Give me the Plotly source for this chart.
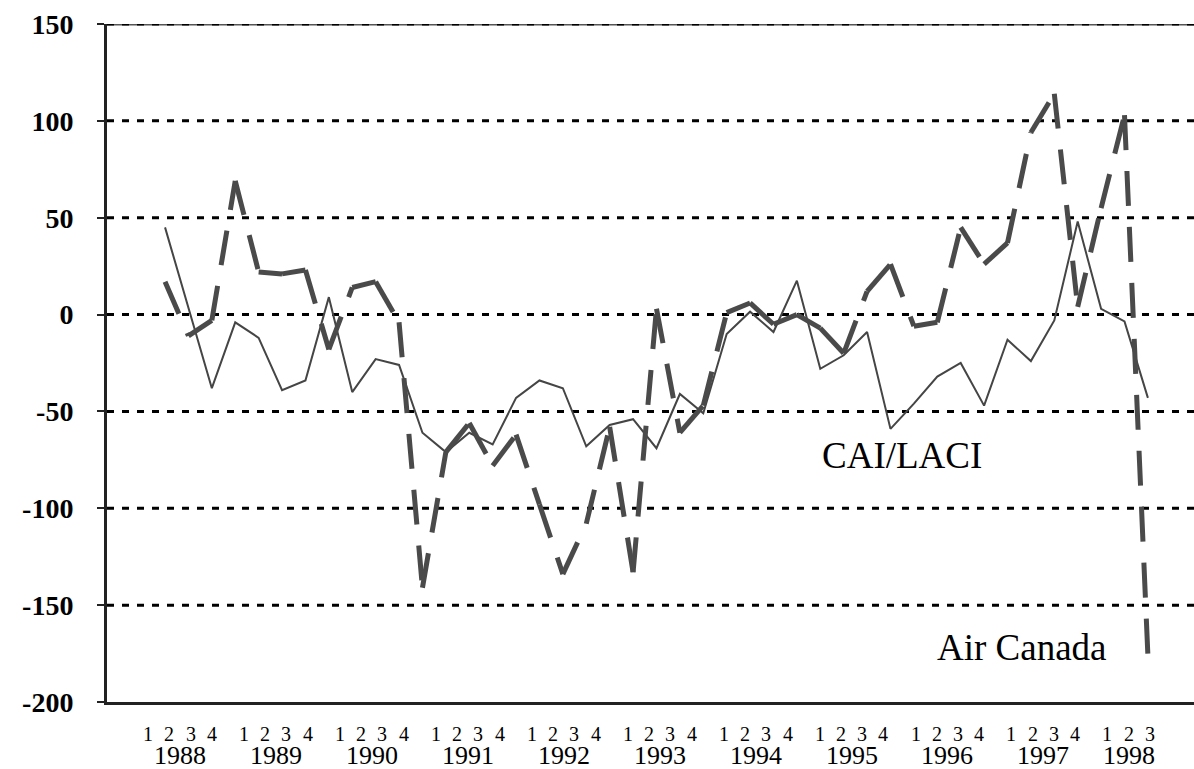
import plotly.graph_objects as go

# ---------------- data ----------------
years = ["1988", "1989", "1990", "1991", "1992", "1993", "1994", "1995", "1996", "1997", "1998"]
quarters_per_year = [4, 4, 4, 4, 4, 4, 4, 4, 4, 4, 3]

cai_laci = [45, 4, -38, -4, -12, -39, -34, 9, -40, -23,
            -26, -61, -71, -61, -67, -43, -34, -38, -68, -57,
            -54, -69, -41, -51, -10, 1.5, -9, 17.5, -28, -21,
            -9, -59, -46, -32, -25, -47, -13, -24, -3, 48,
            3, -3.5, -43]

air_canada = [17, -11, -3, 69, 22, 21, 23, -18, 14, 17,
              -4, -141, -71, -56, -78, -62, -98, -134, -108, -58,
              -133, 3, -61, -47, 1, 6, -5, 0, -7, -20,
              12, 26, -6, -4, 45, 26, 37, 94, 114, 4,
              55, 103, -176]

y_ticks = [-200, -150, -100, -50, 0, 50, 100, 150]
y_tick_labels = ["-200", "-150", "-100", "-50", "0", "50", "100", "150"]

series_labels = ["CAI/LACI", "Air Canada"]

SERIF = "Liberation Serif, Times New Roman, serif"

# ---------------- figure ----------------
n = len(cai_laci)
xs = list(range(n))

fig = go.Figure()

# thin solid line
fig.add_trace(go.Scatter(x=xs, y=cai_laci, mode="lines",
                         line=dict(color="#454545", width=2),
                         name=series_labels[0], showlegend=False, hoverinfo="skip"))

# thick dashed line: each segment drawn separately so the dash pattern restarts at each point
seg_x, seg_y = [], []
for i in range(n - 1):
    seg_x += [xs[i], xs[i + 1], None]
    seg_y += [air_canada[i], air_canada[i + 1], None]
fig.add_trace(go.Scatter(x=seg_x, y=seg_y, mode="lines", connectgaps=False,
                         line=dict(color="#4a4a4a", width=5, dash="35px,21px"),
                         name=series_labels[1], showlegend=False, hoverinfo="skip"))

shapes = []
# solid grey top border under the dotted line
shapes.append(dict(type="line", xref="paper", x0=0, x1=1, yref="y", y0=y_ticks[-1], y1=y_ticks[-1],
                   line=dict(color="#555555", width=3), layer="below"))
for v in y_ticks[1:]:
    shapes.append(dict(type="line", xref="paper", x0=0, x1=1, yref="y", y0=v, y1=v,
                       line=dict(color="black", width=3, dash="7px,8px"), layer="below"))

annotations = []
# quarter digits and year labels below the axis
year_step = 4.10
q_step = 0.91
start = -0.73
for k, (yr, nq) in enumerate(zip(years, quarters_per_year)):
    base = start + k * year_step
    for q in range(nq):
        annotations.append(dict(x=base + q * q_step, y=-0.0465, xref="x", yref="paper",
                                text=str(q + 1), showarrow=False,
                                font=dict(family=SERIF, size=20, color="black"),
                                xanchor="center", yanchor="middle"))
    annotations.append(dict(x=base + (nq - 1) * q_step / 2, y=-0.0785, xref="x", yref="paper",
                            text=yr, showarrow=False,
                            font=dict(family=SERIF, size=26, color="black"),
                            xanchor="center", yanchor="middle"))

# series labels
annotations.append(dict(x=31.5, y=-73, xref="x", yref="y", text=series_labels[0], showarrow=False,
                        font=dict(family=SERIF, size=37, color="black"),
                        xanchor="center", yanchor="middle"))
annotations.append(dict(x=36.6, y=-172, xref="x", yref="y", text=series_labels[1], showarrow=False,
                        font=dict(family=SERIF, size=37, color="black"),
                        xanchor="center", yanchor="middle"))

fig.update_layout(
    width=1194, height=769,
    margin=dict(l=107, r=0, t=24, b=67),
    plot_bgcolor="white", paper_bgcolor="white",
    shapes=shapes, annotations=annotations,
    showlegend=False,
    xaxis=dict(range=[-2.48, 43.97], showgrid=False, zeroline=False,
               showticklabels=False, ticks="", showline=True, linecolor="#222222", linewidth=3),
    yaxis=dict(range=[-200, 150], tickvals=y_ticks,
               ticktext=["<b>" + t + "</b>" for t in y_tick_labels],
               showgrid=False, zeroline=False, showline=True, linecolor="#222222", linewidth=3,
               ticks="outside", ticklen=7, tickwidth=2, tickcolor="#222222",
               ticklabelstandoff=18,
               tickfont=dict(family=SERIF, size=28, color="black")),
)

fig.write_html("out.html",
               config={"displayModeBar": False},
               post_script="document.body.style.margin='0';document.body.style.overflow='hidden';"
                           "document.documentElement.style.overflow='hidden';")
